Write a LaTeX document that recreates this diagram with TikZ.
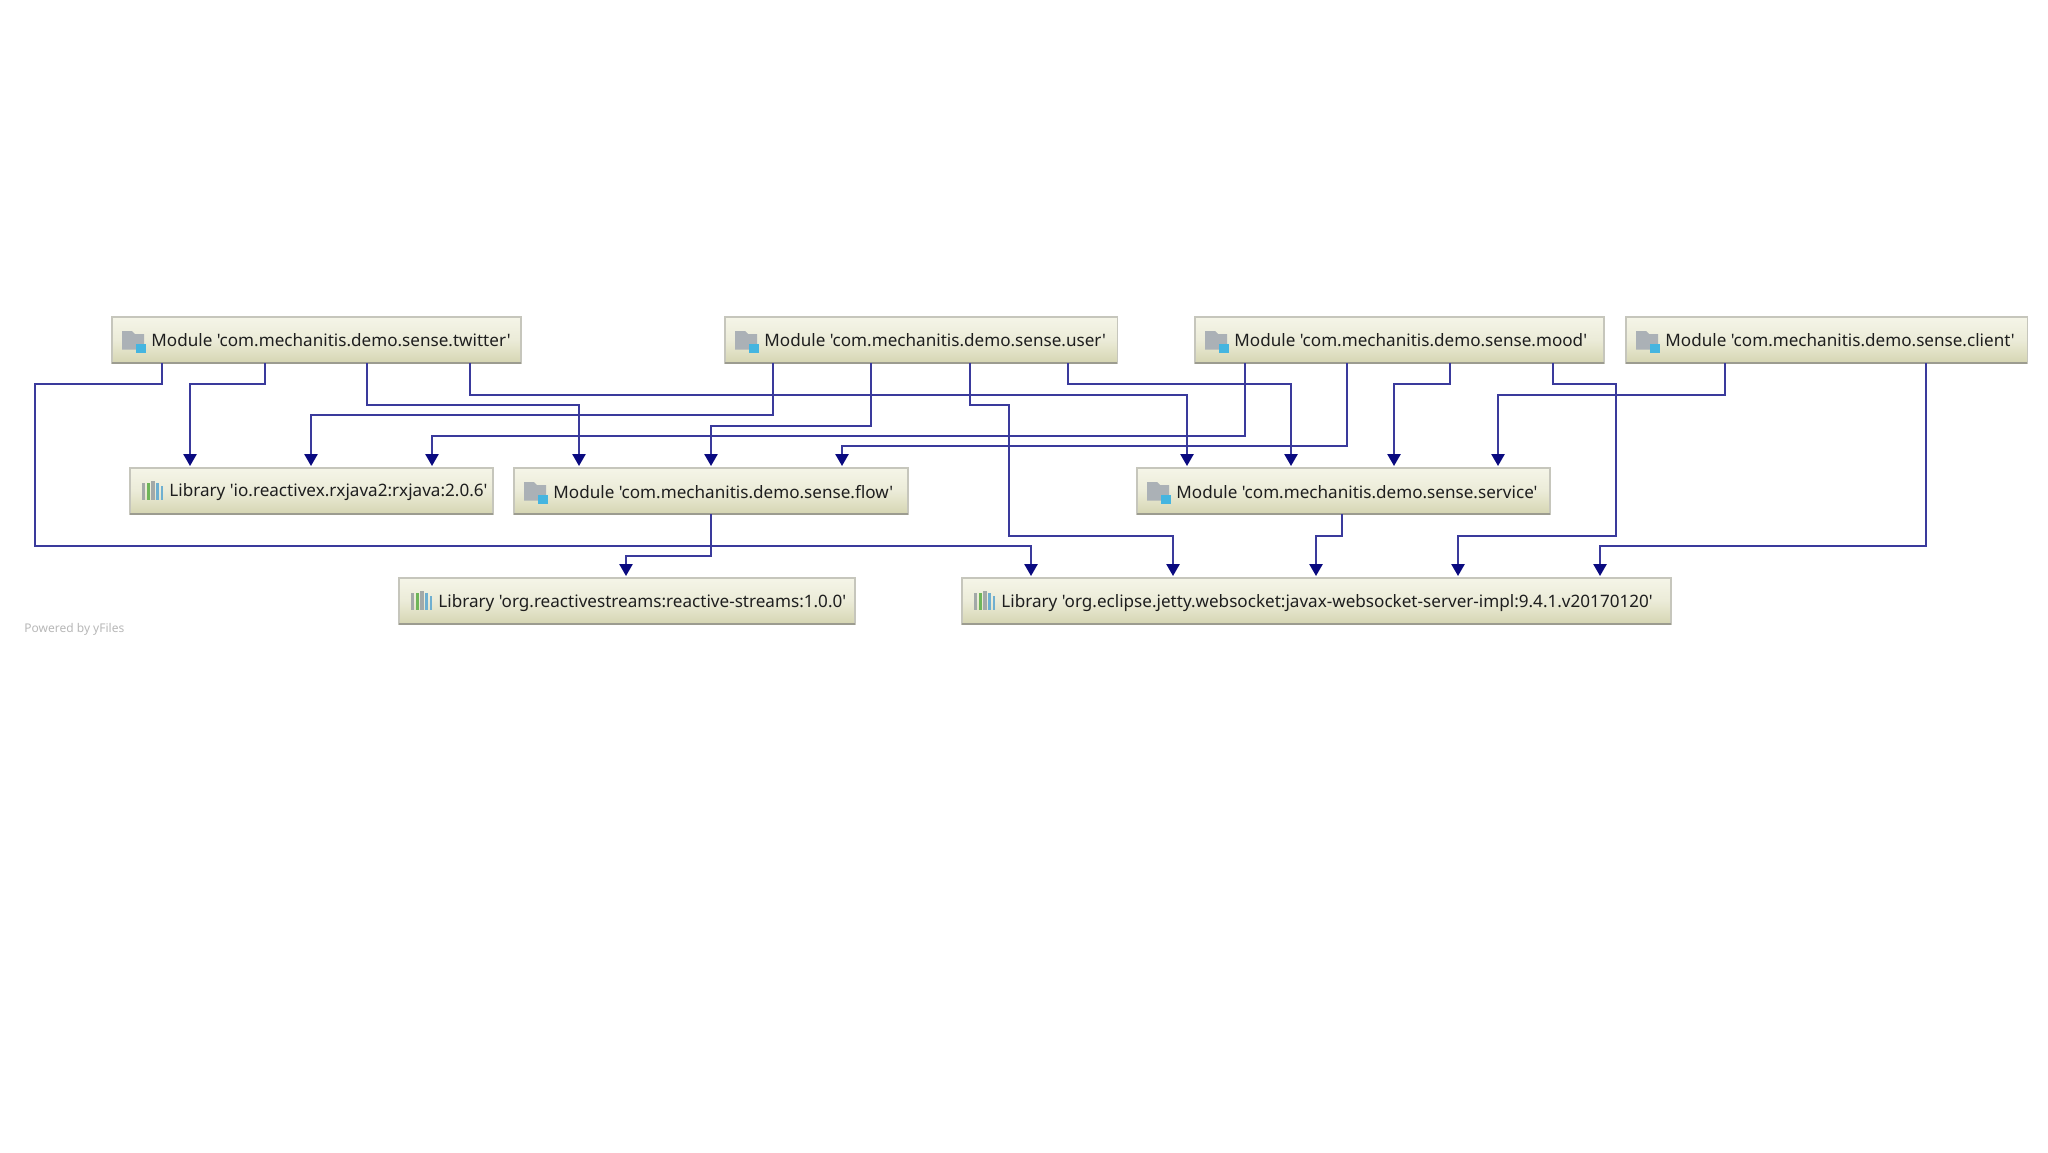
\documentclass[tikz,border=0pt]{standalone}
\usepackage{fontspec}
\newfontfamily\lblfont{Noto Sans}
\usetikzlibrary{arrows.meta,calc}
\definecolor{edgeblue}{HTML}{3A3A9C}
\definecolor{tipblue}{HTML}{0A0A80}
\definecolor{boxtop}{HTML}{F5F5E8}
\definecolor{boxbot}{HTML}{D5D5B2}
\definecolor{boxline}{HTML}{C6C6BC}
\definecolor{boxshade}{HTML}{9C9C90}
\definecolor{foldergray}{HTML}{ABB1B6}
\definecolor{iconblue}{HTML}{45B5E0}
\definecolor{bargreen}{HTML}{6FB55A}
\definecolor{bargray}{HTML}{A3A9A8}
\definecolor{barblue}{HTML}{6FAFD0}
\definecolor{textcol}{HTML}{1E1E1E}
\tikzset{
  dep/.style={draw=boxline, line width=0.6pt, top color=boxtop, bottom color=boxbot, middle color=boxtop!70!boxbot,
    anchor=north west, minimum height=23pt, inner sep=0pt, outer sep=0pt},
  lbl/.style={anchor=west, inner sep=0pt, text=textcol, font=\lblfont\fontsize{8.55pt}{10pt}\selectfont},
  edge/.style={draw=edgeblue, line width=1pt, shorten >=1pt,
    -{Triangle[length=6pt,width=6.6pt,color=tipblue]}},
  modicon/.pic={
    \fill[foldergray] (0,-9) -- (10,-9) -- (13,-6) -- (22,-6) -- (22,9.5) -- (0,9.5) -- cycle;
    \fill[iconblue] (14,3.6) rectangle (23.5,12.6);
  },
  libicon/.pic={
    \fill[bargray] (0,-8) rectangle (3.5,9);
    \fill[bargreen] (5,-8) rectangle (8,9);
    \fill[bargray] (9.5,-10.5) rectangle (13,9);
    \fill[barblue] (14.5,-8.5) rectangle (17,9);
    \fill[barblue] (19,-5.5) rectangle (21.5,9);
  }
}
\begin{document}
\begin{tikzpicture}[x=0.5pt,y=-0.5pt]
\useasboundingbox (0,0) rectangle (2048,1152);
\fill[white] (0,0) rectangle (2048,1152);
% top row
\node[dep, minimum width=204.5pt] (tw) at (112,317) {};
\node[dep, minimum width=196.2pt] (us) at (725,317) {};
\node[dep, minimum width=204.5pt] (mo) at (1195,317) {};
\node[dep, minimum width=200.6pt] (cl) at (1626,317) {};
% middle row
\node[dep, minimum width=181.5pt] (rx) at (130,468) {};
\node[dep, minimum width=197pt] (fl) at (514,468) {};
\node[dep, minimum width=206.5pt] (sv) at (1137,468) {};
% bottom row
\node[dep, minimum width=228pt] (st) at (399,578) {};
\node[dep, minimum width=354.5pt] (je) at (962,578) {};
% box shadow lines
\foreach \n in {tw,us,mo,cl,rx,fl,sv,st,je}
  \draw[boxshade, line width=1pt] (\n.south west) -- (\n.south east);
% icons
\foreach \n in {tw,us,mo,cl,fl,sv} \pic at ($(\n.west)+(10,0)$) {modicon};
\foreach \n in {rx,st,je} \pic at ($(\n.west)+(11.5,0)$) {libicon};
% labels
\node[lbl] (twt) at ($(tw.west)+(39,0)$) {Module 'com.mechanitis.demo.sense.twitter'};
\node[lbl] (ust) at ($(us.west)+(39,0)$) {Module 'com.mechanitis.demo.sense.user'};
\node[lbl] (mot) at ($(mo.west)+(39,0)$) {Module 'com.mechanitis.demo.sense.mood'};
\node[lbl] (clt) at ($(cl.west)+(39,0)$) {Module 'com.mechanitis.demo.sense.client'};
\node[lbl] (rxt) at ($(rx.west)+(39,1)$) {Library 'io.reactivex.rxjava2:rxjava:2.0.6'};
\node[lbl] (flt) at ($(fl.west)+(39,1)$) {Module 'com.mechanitis.demo.sense.flow'};
\node[lbl] (svt) at ($(sv.west)+(39,1)$) {Module 'com.mechanitis.demo.sense.service'};
\node[lbl] (stt) at ($(st.west)+(39,2)$) {Library 'org.reactivestreams:reactive-streams:1.0.0'};
\node[lbl] (jet) at ($(je.west)+(39,2)$) {Library 'org.eclipse.jetty.websocket:javax-websocket-server-impl:9.4.1.v20170120'};
\node[anchor=west, inner sep=0pt, text=black!28, font=\lblfont\fontsize{6pt}{8pt}\selectfont] (pw) at (24,629.5) {Powered by yFiles};
% connectors: twitter
\draw[edge] ($(tw.south west)+(50,0)$) |- (35,384) |- (1031,546) -- ($(je.north west)+(69,0)$);
\draw[edge] ($(tw.south west)+(153,0)$) |- (190,384) -- ($(rx.north west)+(60,0)$);
\draw[edge] ($(tw.south west)+(255,0)$) |- (579,405) -- ($(fl.north west)+(65,0)$);
\draw[edge] ($(tw.south west)+(358,0)$) |- (1187,395) -- ($(sv.north west)+(50,0)$);
% user
\draw[edge] ($(us.south west)+(48,0)$) |- (311,415) -- ($(rx.north west)+(181,0)$);
\draw[edge] ($(us.south west)+(146,0)$) |- (711,426) -- ($(fl.north west)+(197,0)$);
\draw[edge] ($(us.south west)+(245,0)$) |- (1009,405) |- (1173,536) -- ($(je.north west)+(211,0)$);
\draw[edge] ($(us.south west)+(343,0)$) |- (1291,384) -- ($(sv.north west)+(154,0)$);
% mood
\draw[edge] ($(mo.south west)+(50,0)$) |- (432,436) -- ($(rx.north west)+(302,0)$);
\draw[edge] ($(mo.south west)+(152,0)$) |- (842,446) -- ($(fl.north west)+(328,0)$);
\draw[edge] ($(mo.south west)+(255,0)$) |- (1394,384) -- ($(sv.north west)+(257,0)$);
\draw[edge] ($(mo.south west)+(358,0)$) |- (1616,384) |- (1458,536) -- ($(je.north west)+(496,0)$);
% client
\draw[edge] ($(cl.south west)+(99,0)$) |- (1498,395) -- ($(sv.north west)+(361,0)$);
\draw[edge] ($(cl.south west)+(300,0)$) |- (1600,546) -- ($(je.north west)+(638,0)$);
% flow, service
\draw[edge] ($(fl.south west)+(197,0)$) |- (626,556) -- ($(st.north west)+(227,0)$);
\draw[edge] ($(sv.south west)+(205,0)$) |- (1316,536) -- ($(je.north west)+(354,0)$);
\end{tikzpicture}
\end{document}
